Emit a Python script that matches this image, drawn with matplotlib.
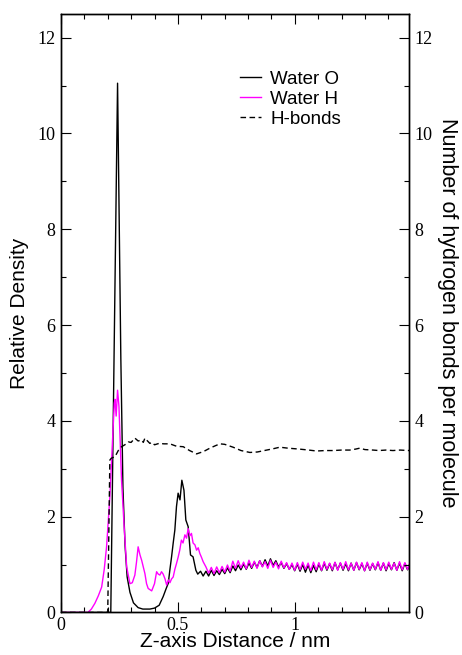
import numpy as np
import matplotlib
matplotlib.use("Agg")
import matplotlib.pyplot as plt
from matplotlib.ticker import MultipleLocator, FuncFormatter

# ---------------- data ----------------
# Water O density: head region (explicit samples)
o_head_x = [0.0, 0.213, 0.242, 0.256, 0.265, 0.274, 0.283, 0.295, 0.31, 0.33, 0.35, 0.38,
            0.40, 0.42, 0.437, 0.45, 0.459, 0.466, 0.473, 0.48, 0.487, 0.494, 0.501, 0.509,
            0.517, 0.526, 0.534, 0.544, 0.554, 0.565, 0.577, 0.585, 0.597, 0.608]
o_head_y = [0.0, 0.0, 11.05, 5.3, 2.6, 1.4, 0.74, 0.42, 0.2, 0.1, 0.07, 0.07,
            0.09, 0.15, 0.33, 0.5, 0.61, 0.9, 1.16, 1.45, 1.72, 2.21, 2.49, 2.35,
            2.76, 2.55, 1.93, 1.79, 1.2, 1.16, 0.88, 0.80, 0.86, 0.76]
# Water O density: tail region sampled on bins of 0.0115 nm starting at 0.62 nm
o_tail_y = [0.86, 0.76, 0.88, 0.77, 0.87, 0.79, 0.90, 0.81, 0.93, 0.83,
            0.97, 0.87, 0.99, 0.89, 1.01, 0.90, 1.03, 0.92, 1.05, 0.94,
            1.08, 0.96, 1.10, 0.97, 1.12, 0.98, 1.08, 0.95, 1.04, 0.92, 1.02, 0.90,
            1.00, 0.87, 1.01, 0.86, 1.00, 0.84, 0.99, 0.83, 0.98, 0.85,
            1.01, 0.87, 1.03, 0.88, 1.02, 0.87, 1.04, 0.89, 1.03, 0.88,
            1.02, 0.87, 1.03, 0.88, 1.04, 0.89, 1.02, 0.87, 1.03, 0.88,
            1.02, 0.89, 1.04, 0.88, 1.03, 0.87, 1.02, 0.89, 1.04, 0.88,
            1.03, 0.87, 1.02, 0.89, 1.04]

# Water H density
h_head_x = [0.0, 0.115, 0.13, 0.145, 0.16, 0.174, 0.185, 0.195, 0.202, 0.209, 0.219, 0.228,
            0.231, 0.236, 0.242, 0.248, 0.259, 0.271, 0.281, 0.295, 0.305, 0.316, 0.323,
            0.33, 0.338, 0.345, 0.352, 0.359, 0.366, 0.373, 0.388, 0.40, 0.409, 0.416,
            0.423, 0.43, 0.437, 0.445, 0.452, 0.459, 0.466, 0.473, 0.48, 0.487, 0.494,
            0.501, 0.508, 0.515, 0.522, 0.53, 0.537, 0.544, 0.551, 0.558, 0.565, 0.573,
            0.58, 0.587, 0.594, 0.601, 0.608]
h_head_y = [0.0, 0.0, 0.07, 0.19, 0.35, 0.53, 0.9, 1.37, 1.9, 2.41, 3.46, 4.37,
            4.45, 4.1, 4.64, 4.3, 2.76, 1.72, 0.95, 0.6, 0.62, 0.78, 1.05,
            1.37, 1.2, 1.09, 0.95, 0.81, 0.6, 0.5, 0.45, 0.6, 0.85, 0.8,
            0.78, 0.85, 0.8, 0.7, 0.57, 0.68, 0.62, 0.7, 0.74, 0.9, 1.02,
            1.15, 1.3, 1.51, 1.45, 1.62, 1.55, 1.75, 1.6, 1.65, 1.45, 1.41,
            1.3, 1.35, 1.23, 1.15, 1.06]
h_tail_y = [0.95, 0.82, 0.94, 0.81, 0.95, 0.83, 0.96, 0.84, 0.99, 0.86,
            1.07, 0.92, 1.08, 0.93, 1.05, 0.91, 1.09, 0.94, 1.07, 0.92, 1.08,
            0.95, 1.06, 0.92, 1.09, 0.94, 1.05, 0.91, 1.07, 0.93, 1.04, 0.90,
            1.03, 0.88, 1.04, 0.89, 1.05, 0.90, 1.03, 0.87, 1.05, 0.89,
            1.04, 0.88, 1.06, 0.90, 1.03, 0.89, 1.05, 0.88, 1.04, 0.90,
            1.06, 0.89, 1.03, 0.88, 1.05, 0.90, 1.04, 0.87, 1.05, 0.89,
            1.03, 0.90, 1.06, 0.88, 1.04, 0.89, 1.05, 0.90, 1.03, 0.88,
            1.06, 0.89, 1.04, 0.90, 1.05]

tail_start = 0.62
tail_step = 0.0115

# Hydrogen bonds per molecule
hb_x = [0.0, 0.2, 0.209, 0.215, 0.231, 0.245, 0.259, 0.273, 0.288, 0.3, 0.316, 0.33,
        0.345, 0.352, 0.359, 0.37, 0.38, 0.39, 0.4, 0.42, 0.44, 0.466, 0.494, 0.523,
        0.55, 0.58, 0.61, 0.637, 0.66, 0.68, 0.7, 0.736, 0.77, 0.808, 0.84, 0.88,
        0.91, 0.936, 0.97, 1.02, 1.06, 1.093, 1.13, 1.164, 1.2, 1.235, 1.26, 1.278,
        1.3, 1.335, 1.36, 1.39, 1.42, 1.45, 1.49]
hb_y = [0.0, 0.0, 3.18, 3.22, 3.25, 3.38, 3.46, 3.5, 3.56, 3.55, 3.64, 3.58,
        3.6, 3.55, 3.64, 3.58, 3.53, 3.55, 3.5, 3.53, 3.52, 3.52, 3.47, 3.46,
        3.38, 3.31, 3.36, 3.43, 3.48, 3.52, 3.51, 3.45, 3.38, 3.34, 3.35, 3.39,
        3.42, 3.45, 3.43, 3.41, 3.39, 3.37, 3.38, 3.38, 3.39, 3.39, 3.41, 3.43,
        3.4, 3.39, 3.38, 3.39, 3.38, 3.39, 3.38]

labels = ["Water O", "Water H", "H-bonds"]

# ---------------- build series ----------------
o_x = np.concatenate([o_head_x, tail_start + tail_step * np.arange(len(o_tail_y))])
o_y = np.concatenate([o_head_y, o_tail_y])
h_x = np.concatenate([h_head_x, tail_start + tail_step * np.arange(len(h_tail_y))])
h_y = np.concatenate([h_head_y, h_tail_y])

# ---------------- plot ----------------
plt.rcParams['font.family'] = ['Liberation Sans', 'DejaVu Sans']
fig = plt.figure(figsize=(4.62, 6.55), dpi=100)
ax = fig.add_axes([0.132, 0.065, 0.753, 0.914])

l1, = ax.plot(o_x, o_y, color='black', lw=1.0)
l2, = ax.plot(h_x, h_y, color='#ff00ff', lw=1.0)
l3, = ax.plot(hb_x, hb_y, color='black', lw=1.0, dashes=(4, 2.5))

ax.set_xlim(0, 1.488)
ax.set_ylim(0, 12.5)

ax.xaxis.set_major_locator(MultipleLocator(0.5))
ax.xaxis.set_minor_locator(MultipleLocator(0.1))
ax.yaxis.set_major_locator(MultipleLocator(2))
ax.yaxis.set_minor_locator(MultipleLocator(1))
fmt = FuncFormatter(lambda v, p: "%g" % v)
ax.xaxis.set_major_formatter(fmt)
ax.yaxis.set_major_formatter(fmt)

TICK_FS = 13
ax.tick_params(which='both', direction='in', top=True, right=False, width=0.8)
ax.tick_params(which='major', length=7)
ax.tick_params(which='minor', length=3.6)
ax.tick_params(axis='x', pad=3)
ax.tick_params(axis='y', pad=4)
for t in ax.get_xticklabels() + ax.get_yticklabels():
    t.set_fontfamily('Liberation Serif')
    t.set_fontsize(TICK_FS)

ax2 = ax.twinx()
ax2.set_ylim(0, 12.5)
ax2.yaxis.set_major_locator(MultipleLocator(2))
ax2.yaxis.set_minor_locator(MultipleLocator(1))
ax2.yaxis.set_major_formatter(fmt)
ax2.tick_params(which='both', direction='in', width=0.8, pad=4)
ax2.tick_params(which='major', length=7)
ax2.tick_params(which='minor', length=3.6)
for t in ax2.get_yticklabels():
    t.set_fontfamily('Liberation Serif')
    t.set_fontsize(TICK_FS)

for a in (ax, ax2):
    for s in a.spines.values():
        s.set_linewidth(1.0)

LABEL_FS = 15
ax.set_xlabel("Z-axis Distance / nm", fontsize=LABEL_FS, labelpad=-1)
ax.set_ylabel("Relative Density", fontsize=LABEL_FS, labelpad=6)
ax2.set_ylabel("Number of hydrogen bonds per molecule", fontsize=15.5,
               rotation=270, labelpad=18)

leg = ax.legend([l1, l2, l3], labels, loc='upper left',
                bbox_to_anchor=(0.515, 0.905), frameon=False, fontsize=13.5,
                handlelength=1.1, handletextpad=0.5, labelspacing=0.15,
                borderpad=0, borderaxespad=0)

fig.savefig("out.png", dpi=100)
